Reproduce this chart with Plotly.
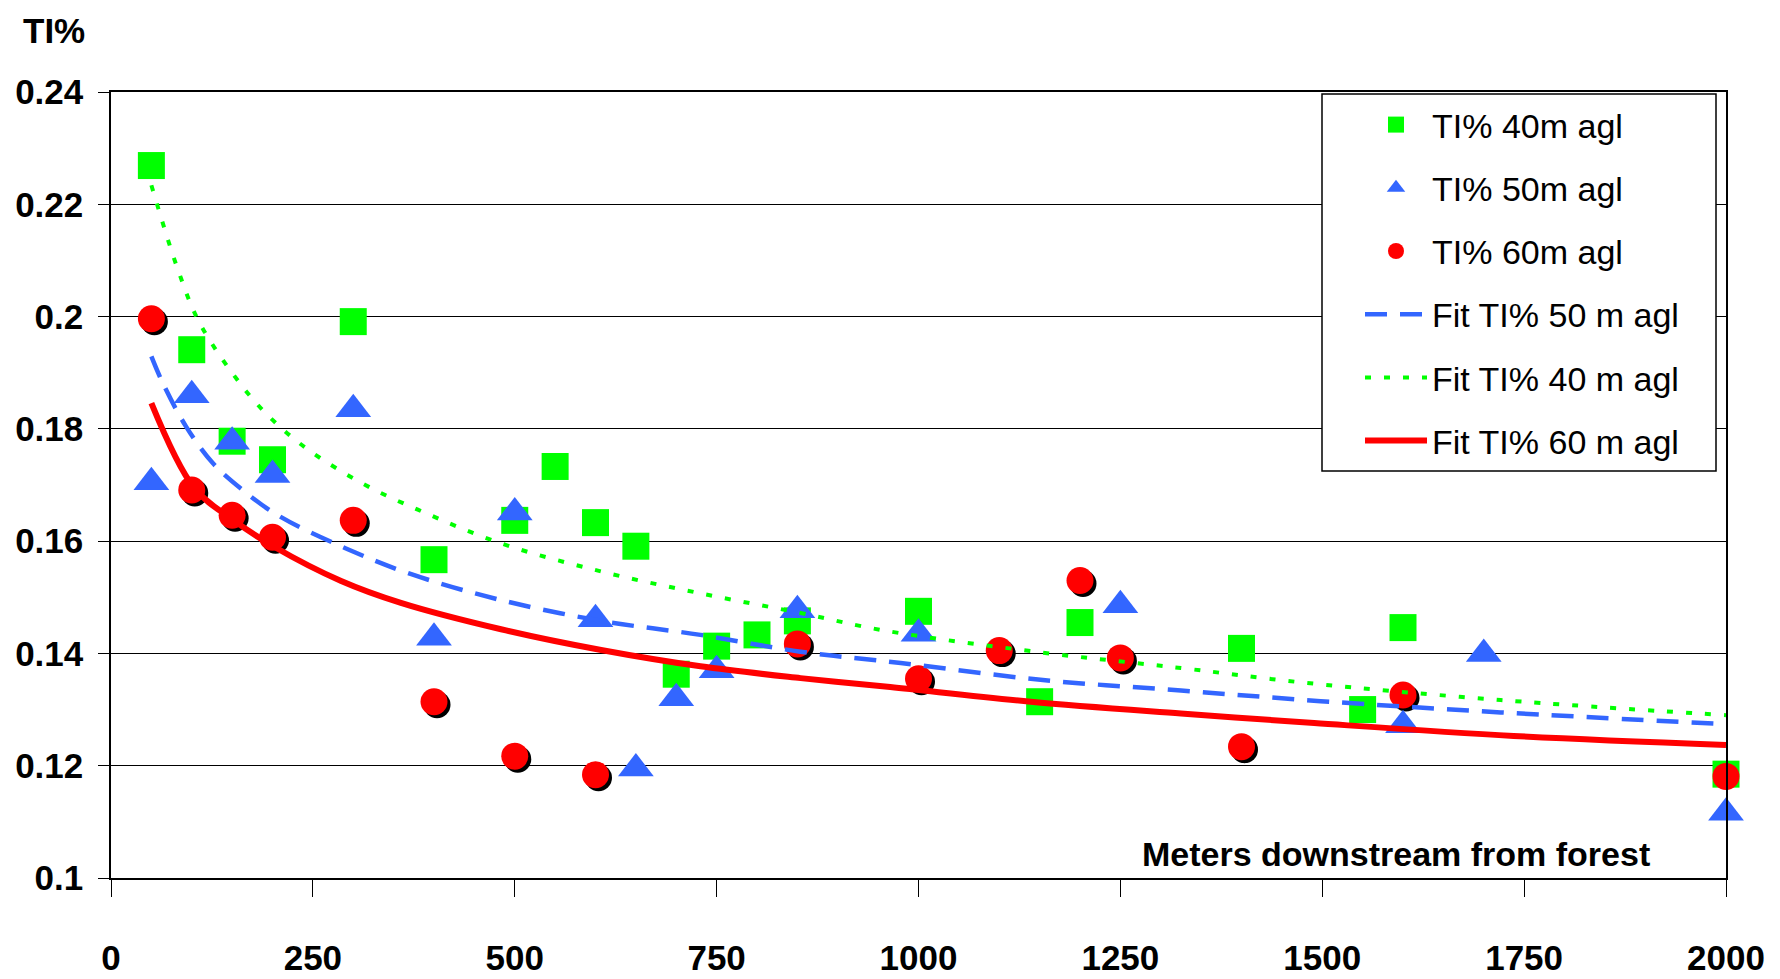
import plotly.graph_objects as go

# ---------------- data ----------------
x40 = [50, 100, 150, 200, 300, 400, 500, 550, 600, 650, 700, 750, 800, 850,
       1000, 1150, 1200, 1400, 1550, 1600, 2000]
y40 = [0.2269, 0.1941, 0.1778, 0.1745, 0.1991, 0.1567, 0.1637, 0.1733, 0.1633,
       0.1591, 0.1363, 0.1413, 0.1433, 0.1458, 0.1475, 0.1314, 0.1455, 0.1409,
       0.1300, 0.1446, 0.1185]

x50 = [50, 100, 150, 200, 300, 400, 500, 600, 650, 700, 750, 850, 1000, 1250,
       1600, 1700, 2000]
y50 = [0.1705, 0.1860, 0.1777, 0.1718, 0.1835, 0.1428, 0.1651, 0.1461, 0.1195,
       0.1320, 0.1370, 0.1477, 0.1435, 0.1486, 0.1272, 0.1399, 0.1116]

x60 = [50, 100, 150, 200, 300, 400, 500, 600, 850, 1000, 1100, 1200, 1250,
       1400, 1600, 2000]
y60 = [0.1996, 0.1691, 0.1646, 0.1607, 0.1637, 0.1314, 0.1217, 0.1184, 0.1417,
       0.1355, 0.1405, 0.1530, 0.1392, 0.1234, 0.1326, 0.1181]

fit50_x = [50, 64, 93, 126, 163, 209, 291, 370, 483, 607, 730, 854, 978, 1151,
           1325, 1498, 1721, 2000]
fit50_y = [0.1929, 0.1882, 0.1804, 0.1739, 0.1691, 0.1644, 0.1587, 0.1542,
           0.1495, 0.1458, 0.1433, 0.1403, 0.1383, 0.1353, 0.1334, 0.1315,
           0.1295, 0.1274]

fit40_x = [50, 83, 110, 163, 200, 245, 315, 380, 483, 607, 730, 854, 957, 1151,
           1325, 1477, 1721, 2000]
fit40_y = [0.2234, 0.2083, 0.1988, 0.1875, 0.1816, 0.1762, 0.1700, 0.1656,
           0.1596, 0.1546, 0.1507, 0.1472, 0.1441, 0.1402, 0.1374, 0.1348,
           0.1317, 0.1290]

fit60_x = [50, 103, 152, 202, 285, 359, 483, 607, 730, 854, 965, 1139, 1325,
           1490, 1737, 2000]
fit60_y = [0.1846, 0.1695, 0.1637, 0.1590, 0.1529, 0.1490, 0.1443, 0.1406,
           0.1377, 0.1356, 0.1340, 0.1314, 0.1293, 0.1276, 0.1253, 0.1237]

x_ticks = [0, 250, 500, 750, 1000, 1250, 1500, 1750, 2000]
x_tick_labels = ["0", "250", "500", "750", "1000", "1250", "1500", "1750", "2000"]
y_ticks = [0.10, 0.12, 0.14, 0.16, 0.18, 0.20, 0.22, 0.24]
y_tick_labels = ["0.1", "0.12", "0.14", "0.16", "0.18", "0.2", "0.22", "0.24"]

# ---------------- layout constants ----------------
W, H = 1780, 979
ML, MR, MT, MB = 111, 54, 92, 101
PW, PH = W - ML - MR, H - MT - MB
X_RANGE = [0, 2000]
Y_RANGE = [0.1, 0.24]
SHADOW = 3  # px offset of the circle shadows
dx = SHADOW * (X_RANGE[1] - X_RANGE[0]) / PW
dy = SHADOW * (Y_RANGE[1] - Y_RANGE[0]) / PH


def px_x(p):  # page pixel -> paper x
    return (p - ML) / PW


def px_y(p):  # page pixel -> paper y
    return (H - MB - p) / PH


FONT = "Liberation Sans Narrow, Arial Narrow, Liberation Sans, Arial, sans-serif"
GREEN, BLUE, RED = "#00FF00", "#3366FF", "#FF0000"

fig = go.Figure()

# shadow of the red circles (on hidden, slightly shifted base axes)
fig.add_trace(go.Scatter(x=x60, y=y60, mode="markers", xaxis="x", yaxis="y",
                         marker=dict(symbol="circle", size=27, color="black",
                                     line=dict(width=0)),
                         showlegend=False, hoverinfo="skip", cliponaxis=False))

fig.add_trace(go.Scatter(x=x40, y=y40, mode="markers", name="TI% 40m agl",
                         xaxis="x2", yaxis="y2", legendgroup="a",
                         marker=dict(symbol="square", size=27, color=GREEN,
                                     line=dict(width=0)),
                         cliponaxis=False))
fig.add_trace(go.Scatter(x=x50, y=y50, mode="markers", name="TI% 50m agl",
                         xaxis="x2", yaxis="y2", legendgroup="b",
                         marker=dict(symbol="triangle-up", size=31, color=BLUE,
                                     line=dict(width=0)),
                         cliponaxis=False))
fig.add_trace(go.Scatter(x=x60, y=y60, mode="markers", name="TI% 60m agl",
                         xaxis="x2", yaxis="y2", legendgroup="c",
                         marker=dict(symbol="circle", size=27, color=RED,
                                     line=dict(width=0)),
                         cliponaxis=False))
fig.add_trace(go.Scatter(x=fit50_x, y=fit50_y, mode="lines", name="Fit TI% 50 m agl",
                         xaxis="x2", yaxis="y2", legendgroup="d",
                         line=dict(color=BLUE, width=4.5, dash="22px,13px",
                                   shape="spline")))
fig.add_trace(go.Scatter(x=fit40_x, y=fit40_y, mode="lines", name="Fit TI% 40 m agl",
                         xaxis="x2", yaxis="y2", legendgroup="e",
                         line=dict(color=GREEN, width=4, dash="6px,13px",
                                   shape="spline")))
fig.add_trace(go.Scatter(x=fit60_x, y=fit60_y, mode="lines", name="Fit TI% 60 m agl",
                         xaxis="x2", yaxis="y2", legendgroup="f",
                         line=dict(color=RED, width=6, shape="spline")))

tickfont = dict(family=FONT, size=35, color="black", weight="bold")

fig.update_layout(
    width=W, height=H,
    margin=dict(l=ML, r=MR, t=MT, b=MB, pad=0, autoexpand=False),
    paper_bgcolor="white", plot_bgcolor="white",
    font=dict(family=FONT, color="black"),
    showlegend=True,
    xaxis=dict(range=[X_RANGE[0] - dx, X_RANGE[1] - dx], visible=False,
               showgrid=False, zeroline=False, fixedrange=True,
               automargin=False),
    yaxis=dict(range=[Y_RANGE[0] + dy, Y_RANGE[1] + dy], visible=False,
               showgrid=False, zeroline=False, fixedrange=True,
               automargin=False),
    xaxis2=dict(overlaying="x", anchor="y2", side="bottom", range=X_RANGE,
                tickmode="array", tickvals=x_ticks, ticktext=x_tick_labels,
                ticks="outside", ticklen=17, tickwidth=1.2, tickcolor="black",
                showline=True, linecolor="black", linewidth=1.5, mirror=True,
                showgrid=False, zeroline=False, tickfont=tickfont,
                ticklabelstandoff=31, automargin=False),
    yaxis2=dict(overlaying="y", anchor="x2", side="left", range=Y_RANGE,
                tickmode="array", tickvals=y_ticks, ticktext=y_tick_labels,
                ticks="outside", ticklen=11, tickwidth=1.2, tickcolor="black",
                showline=True, linecolor="black", linewidth=1.5, mirror=True,
                showgrid=True, gridcolor="black", gridwidth=1.2,
                zeroline=False, tickfont=tickfont, ticklabelstandoff=8,
                automargin=False),
    legend=dict(x=px_x(1360), y=px_y(96), xanchor="left", yanchor="top",
                bgcolor="rgba(0,0,0,0)", borderwidth=0,
                font=dict(family=FONT, size=34, color="black"),
                itemwidth=62, tracegroupgap=16, traceorder="grouped"),
    shapes=[
        dict(type="rect", xref="paper", yref="paper", layer="above",
             x0=px_x(1322), x1=px_x(1716), y0=px_y(471), y1=px_y(94),
             fillcolor="white", line=dict(color="black", width=1.5)),
    ],
    annotations=[
        dict(text="TI%", xref="paper", yref="paper", x=px_x(21), y=px_y(31),
             xanchor="left", yanchor="middle", showarrow=False,
             font=dict(family=FONT, size=35, color="black", weight="bold")),
        dict(text="Meters downstream from forest", xref="paper", yref="paper",
             x=px_x(1652), y=px_y(854), xanchor="right", yanchor="middle",
             showarrow=False,
             font=dict(family=FONT, size=34, color="black", weight="bold")),
    ],
)

fig.write_html("out.html")
